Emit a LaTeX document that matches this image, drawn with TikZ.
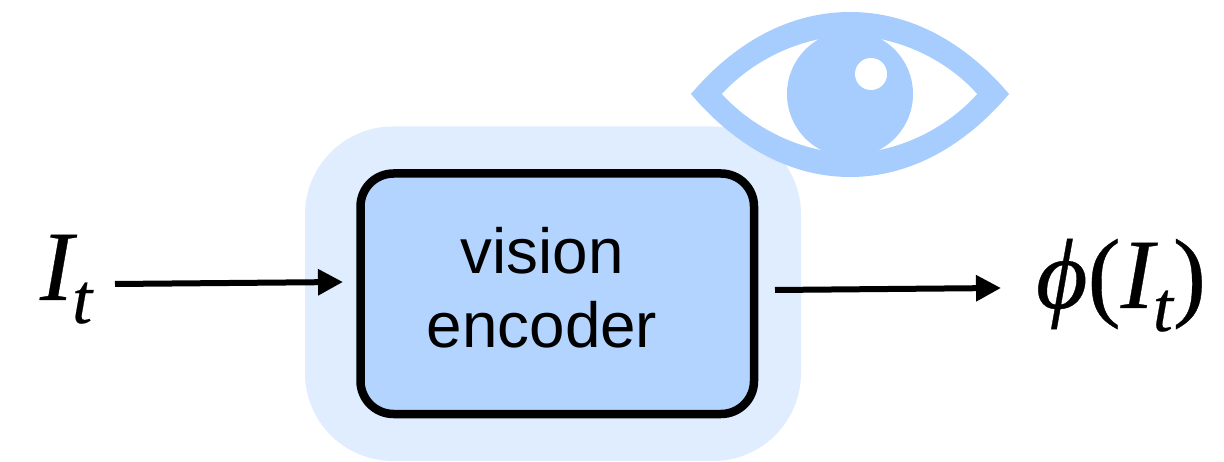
\documentclass[tikz,border=0pt]{standalone}
\usepackage{fontspec}
\setmainfont{Liberation Sans}
\newfontfamily\mathserif[FakeBold=0.35]{Liberation Serif}
\newfontfamily\mathital[FakeBold=0.35]{Liberation Serif Italic}
\usetikzlibrary{arrows.meta,calc}
\definecolor{halo}{HTML}{DFEDFF}
\definecolor{boxfill}{HTML}{B3D4FE}
\definecolor{eyeblue}{HTML}{A6CDFE}
\newcommand{\subt}{\raisebox{-23bp}{\fontsize{72}{72}\selectfont\mathital t}}
\tikzset{
  flow/.style={line width=6bp,-{Triangle[length=25bp,width=25bp]}},
  sym/.style={inner sep=0pt,outer sep=0pt,anchor=base west,font=\fontsize{100}{100}\selectfont\mathserif},
  lab/.style={align=center,font=\fontsize{64}{74}\selectfont}
}
\begin{document}
\begin{tikzpicture}[x=1bp,y=-1bp]
\useasboundingbox (0,0) rectangle (1224,462);
\fill[white] (0,0) rectangle (1224,462);
% halo
\fill[halo,rounded corners=88bp] (305,126.5) rectangle (801,461);
% box
\node[draw=black,fill=boxfill,line width=8.5bp,rounded corners=33bp,minimum width=393.5bp,minimum height=240.5bp,inner sep=0pt,outer sep=0pt,anchor=north west] (box) at (360.5,173.5) {};
\node[lab,inner sep=0pt,anchor=base] (l1) at (542,274) {vision};
\node[lab,inner sep=0pt,anchor=base] (l2) at (542,348) {encoder};
% eye
\fill[eyeblue] (691,94) .. controls (735,42) and (790,12) .. (850,12) .. controls (910,12) and (965,42) .. (1009,94) .. controls (965,146) and (910,177) .. (850,177) .. controls (790,177) and (735,146) .. (691,94) -- cycle;
\fill[white] (722,94) .. controls (755,58) and (805,36) .. (850,36) .. controls (895,36) and (945,58) .. (977,94) .. controls (945,130) and (895,153) .. (850,153) .. controls (805,153) and (755,130) .. (722,94) -- cycle;
\fill[eyeblue] (850,94) circle[radius=63];
\fill[white] (871,74) circle[radius=16];
% labels
\node[sym] (in) at (40,300) {\mathital I\hspace{-1bp}\subt};
\node[sym] (out) at (1036,308) {\mathital\symbol{"03D5}\mathserif(\mathital I\hspace{-1bp}\subt\mathserif)};
% connectors
\coordinate (a) at ($(in.base west)+(75,-16)$);
\coordinate (b) at ($(box.west)+(-17.5,-11.75)$);
\coordinate (c) at ($(box.east)+(21,-3.75)$);
\coordinate (d) at ($(out.base west)+(-35,-20)$);
\draw[flow] (a) -- (b);
\draw[flow] (c) -- (d);
\end{tikzpicture}
\end{document}
